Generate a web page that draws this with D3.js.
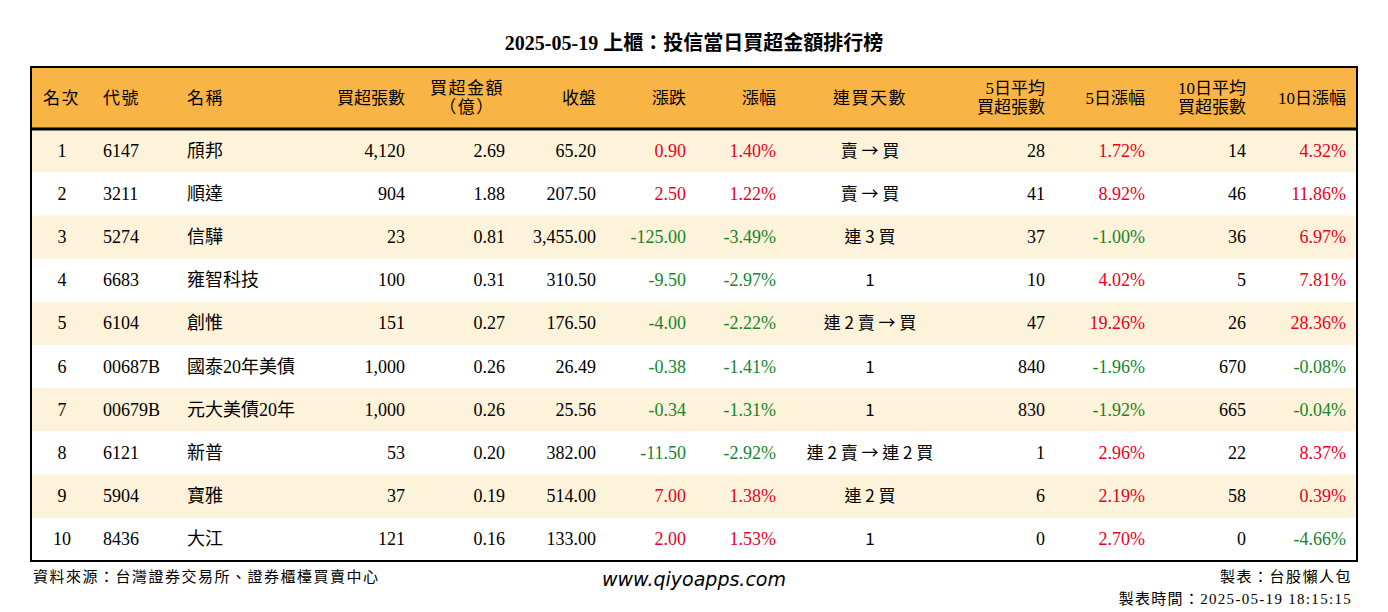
<!DOCTYPE html><html><head><meta charset="utf-8">
<script src="https://cdn.jsdelivr.net/npm/d3@7"></script>
<style>body{margin:0;background:#fff}</style></head><body><svg id="c" width="1388" height="612"></svg>
<script>
const ranks=[1,2,3,4,5,6,7,8,9,10];
const codes=["6147","3211","5274","6683","6104","00687B","00679B","6121","5904","8436"];
const names=["頎邦","順達","信驊","雍智科技","創惟","國泰20年美債","元大美債20年","新普","寶雅","大江"];
const buyLots=[4120,904,23,100,151,1000,1000,53,37,121];
const buyAmt=[2.69,1.88,0.81,0.31,0.27,0.26,0.26,0.20,0.19,0.16];
const closes=[65.20,207.50,3455.00,310.50,176.50,26.49,25.56,382.00,514.00,133.00];
const changes=[0.90,2.50,-125.00,-9.50,-4.00,-0.38,-0.34,-11.50,7.00,2.00];
const pcts=[1.40,1.22,-3.49,-2.97,-2.22,-1.41,-1.31,-2.92,1.38,1.53];
const streaks=["賣 → 買","賣 → 買","連 3 買","1","連 2 賣 → 買","1","1","連 2 賣 → 連 2 買","連 2 買","1"];
const avg5=[28,41,37,10,47,840,830,1,6,0];
const pct5=[1.72,8.92,-1.00,4.02,19.26,-1.96,-1.92,2.96,2.19,2.70];
const avg10=[14,46,36,5,26,670,665,22,58,0];
const pct10=[4.32,11.86,6.97,7.81,28.36,-0.08,-0.04,8.37,0.39,-4.66];

const svg=d3.select("#c");
const cjk="'Noto Sans CJK TC','Liberation Serif',serif";
const font="'Liberation Serif','Noto Sans CJK TC',serif";
const X0=31,X1=1357,HY0=67,HY1=129,Y1=561;
const y=d3.scaleBand().domain(d3.range(10)).range([HY1,Y1]);
const red="#e8001c",green="#16852a";
const fmtI=d3.format(","),f2=d3.format(",.2f");
const pc=v=>v.toFixed(2)+"%";
const col=v=>v>0?red:(v<0?green:"#000");

svg.append("text").attr("x",694).attr("y",50).attr("text-anchor","middle").attr("font-family",font).attr("font-size",20).attr("font-weight","bold").text("2025-05-19 上櫃：投信當日買超金額排行榜");
svg.append("rect").attr("x",X0).attr("y",HY0).attr("width",X1-X0).attr("height",HY1-HY0).attr("fill","#f8b444");
svg.selectAll("rect.row").data(d3.range(10)).join("rect").attr("x",X0).attr("y",i=>y(i)).attr("width",X1-X0).attr("height",y.bandwidth()).attr("fill",i=>i%2==0?"#fdf2da":"#fff");

const hdr=[["名次",43,"start"],["代號",103,"start"],["名稱",187,"start"],["買超張數",405,"end"],["買超金額|（億）",467,"middle"],["收盤",596,"end"],["漲跌",686,"end"],["漲幅",776,"end"],["連買天數",870,"middle"],["5日平均|買超張數",1045,"end"],["5日漲幅",1145,"end"],["10日平均|買超張數",1246,"end"],["10日漲幅",1346,"end"]];
hdr.forEach(([t,x,a])=>{
  const parts=t.split("|");
  parts.forEach((p,k)=>{
    const yy=parts.length==1?104:94+k*19;
    svg.append("text").attr("x",x).attr("y",yy).attr("text-anchor",a).attr("font-family",font).attr("font-size",17).attr("letter-spacing",a=="end"?"0":"1.5").text(p);
  });
});
const cols=[
 [ranks,62,"middle",d=>d,()=>"#000",font],
 [codes,103,"start",d=>d,()=>"#000",font],
 [names,187,"start",d=>d,()=>"#000",font],
 [buyLots,405,"end",fmtI,()=>"#000",font],
 [buyAmt,505,"end",d=>d.toFixed(2),()=>"#000",font],
 [closes,596,"end",f2,()=>"#000",font],
 [changes,686,"end",d=>d.toFixed(2),col,font],
 [pcts,776,"end",pc,col,font],
 [streaks,870,"middle",d=>d,()=>"#000",cjk],
 [avg5,1045,"end",fmtI,()=>"#000",font],
 [pct5,1145,"end",pc,col,font],
 [avg10,1246,"end",fmtI,()=>"#000",font],
 [pct10,1346,"end",pc,col,font]];
cols.forEach(([arr,x,a,f,c,ff])=>{
  svg.selectAll(null).data(arr).join("text").attr("x",x).attr("y",(d,i)=>y(i)+y.bandwidth()/2+6).attr("text-anchor",a)
   .attr("font-family",ff).attr("font-size",ff==cjk?17:18).attr("fill",c).text(f);
});
svg.append("rect").attr("x",X0).attr("y",HY0).attr("width",X1-X0).attr("height",Y1-HY0).attr("fill","none").attr("stroke","#000").attr("stroke-width",2);
svg.append("line").attr("x1",X0).attr("x2",X1).attr("y1",HY1).attr("y2",HY1).attr("stroke","#000").attr("stroke-width",3);
svg.append("text").attr("x",33).attr("y",582).attr("font-family",font).attr("font-size",15).attr("letter-spacing","1.5").text("資料來源：台灣證券交易所、證券櫃檯買賣中心");
svg.append("text").attr("x",694).attr("y",586).attr("text-anchor","middle").attr("font-family","'DejaVu Sans',sans-serif").attr("font-style","italic").attr("font-size",19).text("www.qiyoapps.com");
svg.append("text").attr("x",1352).attr("y",582).attr("text-anchor","end").attr("font-family",font).attr("font-size",15).attr("letter-spacing","1.5").text("製表：台股懶人包");
svg.append("text").attr("x",1352).attr("y",604).attr("text-anchor","end").attr("font-family",font).attr("font-size",15).attr("letter-spacing","1.3").text("製表時間：2025-05-19 18:15:15");
</script></body></html>
